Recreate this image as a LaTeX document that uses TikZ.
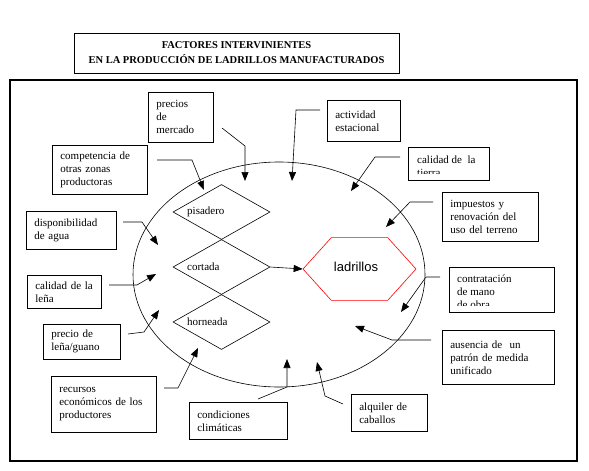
\documentclass[tikz,border=0pt]{standalone}
\usepackage{fontspec}
\setmainfont{Liberation Serif}
\newfontfamily\hexfont{Liberation Sans}
\usetikzlibrary{arrows.meta,shapes.geometric}

\begin{document}
\begin{tikzpicture}[x=1pt, y=-1pt,
    fac/.style={draw, line width=0.7pt, anchor=north west, align=left, inner xsep=8pt, inner ysep=0pt, font=\fontsize{11}{13}\selectfont},
    txt/.style={align=left, inner sep=0pt, anchor=west, font=\fontsize{11}{13}\selectfont},
    etapa/.style={draw, diamond, aspect=1.8, minimum width=97pt, minimum height=55pt, inner sep=0pt, line width=0.6pt},
    arr/.style={-{Triangle[length=9pt, width=7pt]}, line width=0.6pt}
]
\useasboundingbox (0,0) rectangle (589,471);

% titulo
\node[draw, line width=0.7pt, minimum width=325pt, minimum height=40pt, align=center,
      font=\fontsize{10.5}{15}\selectfont\bfseries] (tit) at (236.5,53)
      {FACTORES INTERVINIENTES\\EN LA PRODUCCIÓN DE LADRILLOS MANUFACTURADOS};

% marco y elipse
\draw[line width=2pt] (10,80) rectangle (577,461);
\draw[line width=0.6pt] (279,274.5) ellipse [x radius=146, y radius=112.5];

% etapas
\node[etapa] (pis) at (221.5,212) {};
\node[etapa] (cor) at (221.5,267) {};
\node[etapa] (hor) at (221.5,322) {};
\node[txt] at (187,212) {pisadero};
\node[txt] at (187,267) {cortada};
\node[txt] at (187,322) {horneada};

\node[draw=red, regular polygon, regular polygon sides=6, minimum size=113pt, inner sep=0pt,
      yscale=0.64, line width=0.6pt] (lad) at (359.5,269) {};
\node[font=\hexfont\fontsize{13}{15}\selectfont] at (356,267) {ladrillos};
\draw[arr] (cor.east) -- (lad.corner 3);

% factores
\node[fac, text width=49pt, minimum height=50pt] (prec) at (148,92) {precios\\de\\mercado};
\node[fac, text width=57pt, minimum height=41pt] (act) at (327,100) {actividad\\estacional};
\node[fac, text width=65pt, minimum height=33pt] (tie) at (408,147) {};
\begin{scope}
  \clip (tie.north west) rectangle ([yshift=7pt]tie.south east);
  \node[txt] at ([xshift=9pt, yshift=-2pt]tie.west) {calidad de\ \ la\\tierra};
\end{scope}
\node[fac, text width=80pt, minimum height=49pt] (imp) at (442,192) {impuestos y\\renovación del\\uso del terreno};
\node[fac, text width=89pt, minimum height=45pt] (con) at (449,267) {};
\begin{scope}
  \clip (con.north west) rectangle ([yshift=7pt]con.south east);
  \node[txt] at ([xshift=8pt, yshift=-1.5pt]con.west) {contratación\\de mano\\de obra};
\end{scope}
\node[fac, text width=96pt, minimum height=54pt] (aus) at (442,330) {ausencia de\ \ un\\patrón de medida\\unificado};
\node[fac, text width=60pt, minimum height=37pt] (alq) at (351,394) {alquiler de\\caballos};
\node[fac, text width=82pt, minimum height=37pt] (cli) at (189,402) {condiciones\\climáticas};
\node[fac, text width=89pt, minimum height=56pt] (rec) at (51,376) {recursos\\económicos de los\\productores};
\node[fac, text width=61pt, minimum height=35pt] (lena) at (43,324) {precio de\\leña/guano};
\node[fac, text width=58pt, minimum height=33pt] (cal) at (27,275) {calidad de la\\leña};
\node[fac, text width=74pt, minimum height=38pt] (agu) at (26,211) {disponibilidad\\de agua};
\node[fac, text width=79pt, minimum height=49pt] (com) at (52,145) {competencia de\\otras zonas\\productoras};

% flechas hacia el proceso
\coordinate (prec-a) at (222,128);  \coordinate (prec-b) at (245,181);
\coordinate (act-a) at (320,110);   \coordinate (act-b) at (292,181);
\coordinate (tie-a) at (400,157);   \coordinate (tie-b) at (351,191);
\coordinate (imp-a) at (433,202);   \coordinate (imp-b) at (386,227);
\coordinate (con-a) at (440,277);   \coordinate (con-b) at (401,312);
\coordinate (aus-a) at (431,340);   \coordinate (aus-b) at (355,326);
\coordinate (alq-a) at (343,404);   \coordinate (alq-b) at (317,362);
\coordinate (cli-a) at (258,399);   \coordinate (cli-b) at (287,359);
\coordinate (rec-a) at (164,388);   \coordinate (rec-b) at (198,348);
\coordinate (lena-a) at (128,334);  \coordinate (lena-b) at (159,310);
\coordinate (cal-a) at (109,285);   \coordinate (cal-b) at (156,274);
\coordinate (agu-a) at (123,222);   \coordinate (agu-b) at (158,245);
\coordinate (com-a) at (157,160);   \coordinate (com-b) at (204,190);

\draw[arr] (prec-a) -- (245,146) -- (prec-b);
\draw[arr] (act-a) -- (296,110) -- (act-b);
\draw[arr] (tie-a) -- (375,157) -- (tie-b);
\draw[arr] (imp-a) -- (410,202) -- (imp-b);
\draw[arr] (con-a) -- (426,277) -- (con-b);
\draw[arr] (aus-a) -- (392,340) -- (aus-b);
\draw[arr] (alq-a) -- (325,396) -- (alq-b);
\draw[arr] (cli-a) -- (287,387) -- (cli-b);
\draw[arr] (rec-a) -- (178,388) -- (rec-b);
\draw[arr] (lena-a) -- (144,332) -- (lena-b);
\draw[arr] (cal-a) -- (137,285) -- (cal-b);
\draw[arr] (agu-a) -- (142,222) -- (agu-b);
\draw[arr] (com-a) -- (192,160) -- (com-b);
\end{tikzpicture}
\end{document}
